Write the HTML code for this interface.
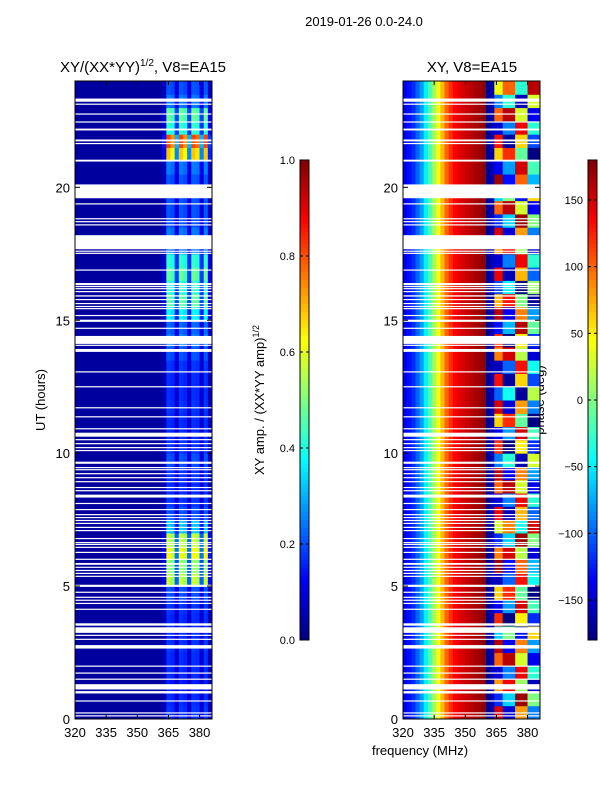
<!DOCTYPE html>
<html><head><meta charset="utf-8">
<style>
body{margin:0;background:#fff;font-family:"Liberation Sans",sans-serif;}
svg text{font-family:"Liberation Sans",sans-serif;fill:#000;}
</style></head>
<body>
<svg id="fig" width="600" height="800" xmlns="http://www.w3.org/2000/svg">
<rect width="600" height="800" fill="#fff"/>
<text x="364" y="26" font-size="13" text-anchor="middle">2019-01-26 0.0-24.0</text>
<text x="143" y="72" font-size="15" text-anchor="middle">XY/(XX*YY)<tspan font-size="10" dy="-6">1/2</tspan><tspan dy="6">, V8=EA15</tspan></text>
<text x="472" y="72" font-size="15" text-anchor="middle">XY, V8=EA15</text>
<text transform="translate(45,400) rotate(-90)" font-size="13" text-anchor="middle">UT (hours)</text>
<text x="420" y="755" font-size="13" text-anchor="middle">frequency (MHz)</text>
<text transform="translate(264,400) rotate(-90)" font-size="13" text-anchor="middle">XY amp. / (XX*YY amp)<tspan font-size="9" dy="-5">1/2</tspan></text>
<text transform="translate(544,400) rotate(-90)" font-size="13" text-anchor="middle">phase (deg)</text>
<g id="left"></g>
<g id="right"></g>
<g id="axes"></g>
</svg>
<script>
const freqEdges=[320,322,324,326,328,330,332,334,336,338,340,342,344,346,348,350,352,354,356,358,360,362,364,366,368,370,372,374,376,378,380,382,384,386];
const ampLevels=[0.15,0.14,0.12,0.14,0.14,0.15,0.14,0.14,0.15,0.18,0.55,0.5,0.6,0.55,0.3,0.18,0.15,0.14,0.15,0.18,0.15,0.14,0.14,0.15,0.14,0.14,0.15,0.18,0.22,0.2,0.35,0.45,0.4,0.45,0.4,0.22,0.22,0.18,0.18,0.18,0.18,0.22,0.65,0.78,0.4,0.45,0.22,0.18];
const ampProfile=[0,0,0,0,0,0,0,0,0,0,0,0,0,0,0,0,0,0,0,0,0,0.15,1,0.9,0.35,1,0.9,0.35,1,0.95,0.35,1,0.2];
const phaseProfile=[-140,-130,-120,-100,-80,-50,-20,10,40,70,100,120,135,145,150,155,160,165,170,175,-175,-160];
const highBandPhase=[150,-120,80,-150,100,160,-60,120,-140,60,-160,170,90,-120,30,140,-150,100,160,-90,120,-140,60,150,-100,130,-160,90,120,-130,160,70,-110,140,-150,80,150,-120,100,-60,170,-140,60,130,-150,100,-90,40];
const subbandOffsets=[0,0,60,60,60,-70,-70,-70,120,120,120,30];
const flags=[[23.22,23.34],[23.11,23.15],[22.74,22.78],[22.44,22.48],[22.14,22.21],[21.73,21.8],[21.63,21.67],[20.97,21.04],[19.59,20.11],[19.36,19.4],[18.8,18.84],[18.69,18.73],[18.57,18.61],[17.67,18.2],[17.58,17.62],[17.5,17.54],[16.87,16.91],[16.32,16.4],[16.25,16.29],[16.17,16.21],[16.06,16.1],[15.89,15.94],[15.76,15.8],[15.61,15.65],[15.5,15.54],[15.42,15.46],[15.16,15.2],[14.94,15.02],[14.68,14.72],[14.11,14.41],[14.04,14.08],[13.81,13.92],[13.04,13.08],[12.48,12.52],[11.69,11.73],[11.35,11.39],[10.9,10.94],[10.62,10.77],[10.49,10.53],[10.34,10.38],[10.19,10.23],[10.08,10.12],[9.6,9.68],[9.44,9.48],[9.36,9.4],[9.21,9.25],[9.06,9.1],[8.91,8.95],[8.69,8.73],[8.57,8.61],[8.33,8.44],[8.09,8.13],[7.86,7.9],[7.67,7.71],[7.56,7.6],[7.45,7.49],[7.34,7.38],[7.19,7.23],[7.07,7.11],[6.77,6.81],[6.62,6.66],[6.55,6.59],[6.44,6.48],[6.25,6.29],[5.99,6.03],[5.8,5.87],[5.69,5.73],[5.57,5.61],[5.46,5.5],[5.35,5.39],[4.97,5.05],[4.75,4.79],[4.56,4.6],[4.45,4.49],[4.33,4.37],[4.11,4.15],[3.51,3.6],[3.24,3.45],[3.13,3.17],[2.98,3.02],[2.65,2.78],[1.97,2.01],[1.71,1.75],[1.48,1.52],[1.11,1.31],[0.96,1.05],[0.66,0.7],[0.21,0.25],[0.1,0.14]];
const xTicks=[320,335,350,365,380];
const yTicks=[0,5,10,15,20];
const ampTicks=[0.0,0.2,0.4,0.6,0.8,1.0];
const phaseTicks=[-150,-100,-50,0,50,100,150];

const NS='http://www.w3.org/2000/svg';
function jet(v){v=Math.max(0,Math.min(1,v));
 const f=(x)=>Math.max(0,Math.min(1,x));
 const r=f(1.5-Math.abs(4*v-3)),g=f(1.5-Math.abs(4*v-2)),b=f(1.5-Math.abs(4*v-1));
 return `rgb(${Math.round(r*255)},${Math.round(g*255)},${Math.round(b*255)})`;}
function el(tag,attrs,parent){const e=document.createElementNS(NS,tag);for(const k in attrs)e.setAttribute(k,attrs[k]);parent.appendChild(e);return e;}
const Y0=719,Y1=81;
function yS(h){return Y0-(h/24)*(Y0-Y1);}
function xL(f){return 75+(f-320)/66*137;}
function xR(f){return 403+(f-320)/66*137;}
const left=document.getElementById('left'),right=document.getElementById('right'),axes=document.getElementById('axes');
const nT=ampLevels.length;
for(let t=0;t<nT;t++){
 const h0=t*24/nT,h1=(t+1)*24/nT;
 for(let j=0;j<freqEdges.length-1;j++){
  const a=0.03+ampLevels[t]*ampProfile[j];
  const c=el('rect',{x:xL(freqEdges[j]),y:yS(h1),width:xL(freqEdges[j+1])-xL(freqEdges[j])+0.5,height:yS(h0)-yS(h1)+0.5,fill:jet(a)},left);
  
  
  let p;
  if(j<phaseProfile.length) p=phaseProfile[j];
  else {p=highBandPhase[t]+subbandOffsets[j-phaseProfile.length]; p=((p+180)%360+360)%360-180;}
  const d=el('rect',{x:xR(freqEdges[j]),y:yS(h1),width:xR(freqEdges[j+1])-xR(freqEdges[j])+0.5,height:yS(h0)-yS(h1)+0.5,fill:jet((p+180)/360)},right);
  
  
 }
}
for(const fl of flags){
 for(const [g,xs] of [[left,xL],[right,xR]]){
  const r=el('rect',{x:xs(320),y:yS(fl[1]),width:137,height:Math.max(1.2,yS(fl[0])-yS(fl[1])),fill:'#fff'},g);
  
  
 }
}
for(const [x0,xs] of [[75,xL],[403,xR]]){
 const fr=el('rect',{x:x0,y:Y1,width:137,height:Y0-Y1,fill:'none',stroke:'#000','stroke-width':1},axes);
 
 
 for(const v of xTicks){
  el('line',{x1:xs(v),x2:xs(v),y1:Y0,y2:Y0-4,stroke:'#000'},axes);
  el('line',{x1:xs(v),x2:xs(v),y1:Y1,y2:Y1+4,stroke:'#000'},axes);
  const t=el('text',{x:xs(v),y:737,'font-size':13,'text-anchor':'middle'},axes);t.textContent=v;
  
  
 }
 for(const v of yTicks){
  el('line',{x1:x0,x2:x0+5,y1:yS(v),y2:yS(v),stroke:'#000'},axes);
  el('line',{x1:x0+137,x2:x0+132,y1:yS(v),y2:yS(v),stroke:'#000'},axes);
  const t=el('text',{x:x0-5,y:yS(v)+5,'font-size':13,'text-anchor':'end'},axes);t.textContent=v;
  
  
 }
}
function colorbar(x,ticks,lo,hi,fmt,name){
 for(let i=0;i<120;i++){
  el('rect',{x:x,y:160+i*4,width:9,height:4.5,fill:jet(1-(i+0.5)/120)},axes);
 }
 const b=el('rect',{x:x,y:160,width:9,height:480,fill:'none',stroke:'#000'},axes);
 
 
 for(const v of ticks){
  const y=640-(v-lo)/(hi-lo)*480;
  el('line',{x1:x,x2:x+3,y1:y,y2:y,stroke:'#000'},axes);
  el('line',{x1:x+9,x2:x+6,y1:y,y2:y,stroke:'#000'},axes);
  const t=el('text',{x:x-5,y:y+4,'font-size':11,'text-anchor':'end'},axes);t.textContent=fmt(v);
  
  
 }
}
colorbar(300,ampTicks,0,1,v=>v.toFixed(1),'amp-colorbar');
colorbar(588,phaseTicks,-180,180,v=>v<0?'\u2212'+(-v):String(v),'phase-colorbar');
</script>
</body></html>
